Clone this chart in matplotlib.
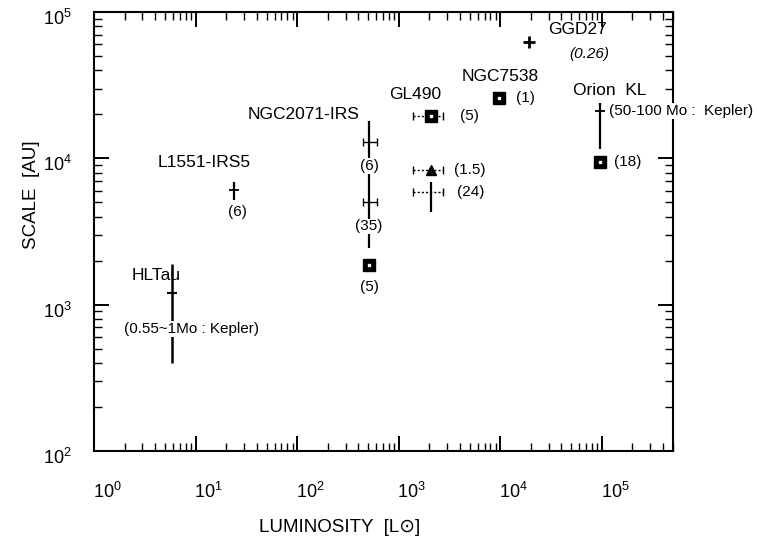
import matplotlib
matplotlib.use("Agg")
import matplotlib.pyplot as plt
import matplotlib.transforms as mtransforms
from matplotlib.ticker import LogLocator, NullFormatter

plt.rcParams['font.family'] = ['Liberation Sans', 'DejaVu Sans']
plt.rcParams['mathtext.fontset'] = 'custom'
plt.rcParams['mathtext.rm'] = 'Liberation Sans'
plt.rcParams['mathtext.it'] = 'Liberation Sans:italic'
plt.rcParams['mathtext.default'] = 'regular'

# ---------------- data ----------------
# HL Tau
hltau_L = 5.8
hltau_S = 1200
hltau_lo, hltau_hi = 400, 1900
# L1551-IRS5
l1551_L = 24
l1551_S = 6100
l1551_lo, l1551_hi = 5200, 6900
# NGC2071-IRS
ngc2071_L = 510
ngc2071_line_lo, ngc2071_line_hi = 2450, 18000
ngc2071_cross_S = [12900, 5000]
ngc2071_L_lo, ngc2071_L_hi = 447, 614
ngc2071_sq_S = 1870
# GL490
gl490_L = 2090
gl490_sq_S = 19500
gl490_tri_S = 8300
gl490_cross_S = 5900
gl490_cross_lo, gl490_cross_hi = 4270, 6900
gl490_L_lo, gl490_L_hi = 1390, 2750
# NGC7538
ngc7538_L = 9800
ngc7538_S = 25800
# GGD27
ggd27_L = 19000
ggd27_S = 62000
# Orion KL
orion_L = 96000
orion_cross_S = 21000
orion_lo, orion_hi = 11500, 24000
orion_sq_S = 9500

# ---------------- figure ----------------
fig = plt.figure(figsize=(7.57, 5.47), dpi=100)
ax = fig.add_axes([94/757, 1-451/547, (673-94)/757, (451-12)/547])
ax.set_xscale('log')
ax.set_yscale('log')
ax.set_xlim(1, 10**5.7)
ax.set_ylim(1e2, 1e5)

k = 'black'
# HL Tau
ax.vlines(hltau_L, hltau_lo, hltau_hi, color=k, lw=1.8)
ax.plot([hltau_L], [hltau_S], marker='_', ms=7, mew=1.5, color=k)
# L1551
ax.vlines(l1551_L, l1551_lo, l1551_hi, color=k, lw=1.6)
ax.plot([l1551_L], [l1551_S], marker='_', ms=7, mew=1.3, color=k)
# NGC2071
ax.vlines(ngc2071_L, ngc2071_line_lo, ngc2071_line_hi, color=k, lw=1.6)
for s in ngc2071_cross_S:
    ax.errorbar([ngc2071_L], [s],
                xerr=[[ngc2071_L - ngc2071_L_lo], [ngc2071_L_hi - ngc2071_L]],
                fmt='none', ecolor=k, elinewidth=1.0, capsize=3, capthick=1.0)
ax.plot([ngc2071_L], [ngc2071_sq_S], marker='s', ms=8, color=k, zorder=5)
ax.plot([ngc2071_L], [ngc2071_sq_S], marker='s', ms=2, color='white', zorder=6)
# GL490
for s in [gl490_sq_S, gl490_tri_S, gl490_cross_S]:
    eb = ax.errorbar([gl490_L], [s],
                     xerr=[[gl490_L - gl490_L_lo], [gl490_L_hi - gl490_L]],
                     fmt='none', ecolor=k, elinewidth=1.0, capsize=3, capthick=1.0)
    eb[2][0].set_linestyle((0, (1.5, 1.5)))
ax.plot([gl490_L], [gl490_sq_S], marker='s', ms=8, color=k, zorder=5)
ax.plot([gl490_L], [gl490_sq_S], marker='s', ms=2, color='white', zorder=6)
ax.plot([gl490_L], [gl490_tri_S], marker='^', ms=7, color=k, zorder=5)
ax.vlines(gl490_L, gl490_cross_lo, gl490_cross_hi, color=k, lw=1.6)
# NGC7538
ax.plot([ngc7538_L], [ngc7538_S], marker='s', ms=8, color=k, zorder=5)
ax.plot([ngc7538_L], [ngc7538_S], marker='s', ms=2, color='white', zorder=6)
# GGD27
ax.plot([ggd27_L], [ggd27_S], marker='+', ms=9, mew=2, color=k)
# Orion KL
ax.vlines(orion_L, orion_lo, orion_hi, color=k, lw=1.6)
ax.plot([orion_L], [orion_cross_S], marker='_', ms=7, mew=1.3, color=k)
ax.plot([orion_L], [orion_sq_S], marker='s', ms=8, color=k, zorder=5)
ax.plot([orion_L], [orion_sq_S], marker='s', ms=2, color='white', zorder=6)

# ---------------- annotations ----------------
big = 12.5
small = 11
wb = dict(facecolor='white', edgecolor='none', pad=0.5)

def lab(txt, x, y, dx, dy, size=small, ha='center', box=False, **kw):
    ax.annotate(txt, xy=(x, y), xytext=(dx, -dy), textcoords='offset pixels',
                ha=ha, va='center', fontsize=size, annotation_clip=False,
                bbox=wb if box else None, zorder=10, **kw)

lab('HLTau', hltau_L, hltau_S, -15, -18, size=big)
lab('(0.55~1Mo : Kepler)', hltau_L, hltau_S, 20, 36, box=True)
lab('L1551-IRS5', l1551_L, l1551_S, -30, -27, size=big)
lab('(6)', l1551_L, l1551_S, 3, 22)
lab('NGC2071-IRS', ngc2071_L, ngc2071_cross_S[0], -65, -28, size=big)
lab('(6)', ngc2071_L, ngc2071_cross_S[0], 0, 24, box=True)
lab('(35)', ngc2071_L, ngc2071_cross_S[1], 0, 24, box=True)
lab('(5)', ngc2071_L, ngc2071_sq_S, 0, 22)
lab('GL490', gl490_L, gl490_sq_S, -16, -21, size=big)
lab('(5)', gl490_L, gl490_sq_S, 29, 0, ha='left')
lab('(1.5)', gl490_L, gl490_tri_S, 23, 0, ha='left')
lab('(24)', gl490_L, gl490_cross_S, 26, 0, ha='left')
lab('NGC7538', ngc7538_L, ngc7538_S, 1, -22, size=big)
lab('(1)', ngc7538_L, ngc7538_S, 17, 0, ha='left')
lab('GGD27', ggd27_L, ggd27_S, 49, -13, size=big)
lab('(0.26)', ggd27_L, ggd27_S, 61, 12, style='italic')
lab('Orion  KL', orion_L, orion_cross_S, 10, -21, size=big)
lab('(50-100 Mo :  Kepler)', orion_L, orion_cross_S, 9, 0, ha='left', box=True)
lab('(18)', orion_L, orion_sq_S, 14, 0, ha='left')

# ---------------- axes styling ----------------
for sp in ax.spines.values():
    sp.set_linewidth(1.5)
ax.xaxis.set_major_locator(LogLocator(base=10, numticks=10))
ax.yaxis.set_major_locator(LogLocator(base=10, numticks=10))
ax.xaxis.set_minor_locator(LogLocator(base=10, subs=range(2, 10), numticks=20))
ax.yaxis.set_minor_locator(LogLocator(base=10, subs=range(2, 10), numticks=20))
ax.xaxis.set_minor_formatter(NullFormatter())
ax.yaxis.set_minor_formatter(NullFormatter())
ax.tick_params(which='both', direction='in', top=True, right=True, color=k)
ax.tick_params(which='major', length=11, width=1.4, labelsize=13)
ax.tick_params(which='minor', length=6, width=1.0)
ax.tick_params(axis='x', which='major', pad=22)
ax.tick_params(axis='y', which='major', pad=16)

for t in ax.get_xticklabels():
    t.set_transform(t.get_transform() + mtransforms.ScaledTranslation(0.13, 0, fig.dpi_scale_trans))
for t in ax.get_yticklabels():
    t.set_transform(t.get_transform() + mtransforms.ScaledTranslation(0, -0.05, fig.dpi_scale_trans))

fig.text(340/757, 1-528/547, 'LUMINOSITY  [L\u2299]', ha='center', va='center', fontsize=13.5)
fig.text(31/757, 1-195/547, 'SCALE  [AU]', ha='center', va='center', fontsize=13.5, rotation=90)

fig.savefig('out.png', dpi=100)
